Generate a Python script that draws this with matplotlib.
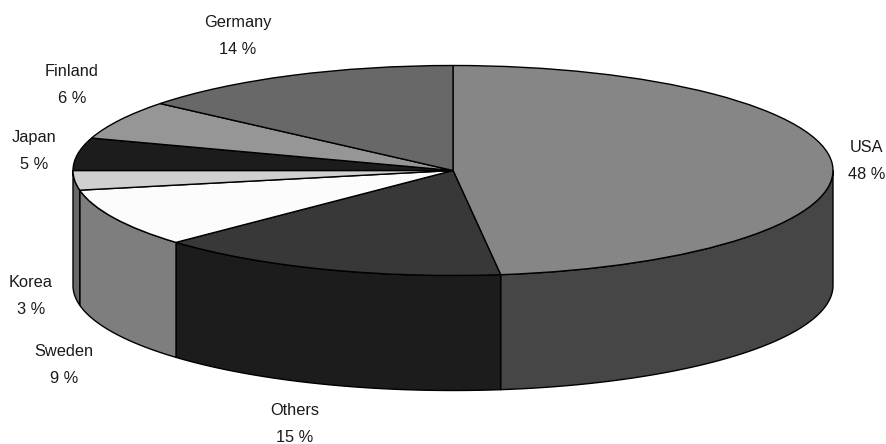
import numpy as np
import matplotlib
matplotlib.use("Agg")
import matplotlib.pyplot as plt

labels = ["USA", "Others", "Sweden", "Korea", "Japan", "Finland", "Germany"]
shares = [48, 15, 9, 3, 5, 6, 14]
top_colors = ["#868686", "#383838", "#fcfcfc", "#d0d0d0", "#1c1c1c", "#969696", "#686868"]
wall_colors = ["#464646", "#1c1c1c", "#7e7e7e", "#686868", "#101010", "#4a4a4a", "#343434"]
label_px = [(867, 161), (295, 424), (64, 365), (31, 296), (34, 151), (72, 85), (238, 36)]

W, H = 887, 444
CX, CY, RX, RY, DEPTH = 453, 170.5, 380, 105, 115

plt.rcParams["font.family"] = ["Liberation Sans", "DejaVu Sans"]
fig = plt.figure(figsize=(W / 100, H / 100), dpi=100)
ax = fig.add_axes([0, 0, 1, 1])

d = DEPTH / RY

# Side walls, drawn first so the top face overlaps them
angle = 90.0
for share, col in zip(shares, wall_colors):
    a0 = angle
    a1 = angle - share * 3.6
    angle = a1
    lo = max(a1, -180)
    hi = min(a0, 0)
    if hi <= lo:
        continue
    t = np.radians(np.linspace(hi, lo, 80))
    x = np.cos(t)
    y = np.sin(t)
    ax.fill(np.r_[x, x[::-1]], np.r_[y, y[::-1] - d], facecolor=col,
            edgecolor="#000000", linewidth=1.0, joinstyle="round", zorder=1)

# Top face
ax.pie(shares, startangle=90, counterclock=False, colors=top_colors, radius=1,
       wedgeprops=dict(edgecolor="#000000", linewidth=1.0, zorder=2))

# Stretch the pie into an ellipse
ax.set_aspect("auto")
ax.set_xlim(-CX / RX, (W - CX) / RX)
ax.set_ylim((CY - H) / RY, CY / RY)
ax.axis("off")

for name, share, (px, py) in zip(labels, shares, label_px):
    fig.text(px / W, 1 - py / H, f"{name}\n{share} %", ha="center", va="center",
             fontsize=11.8, color="#1a1a1a", linespacing=1.95)

fig.savefig("out.png", dpi=100, facecolor="white")
